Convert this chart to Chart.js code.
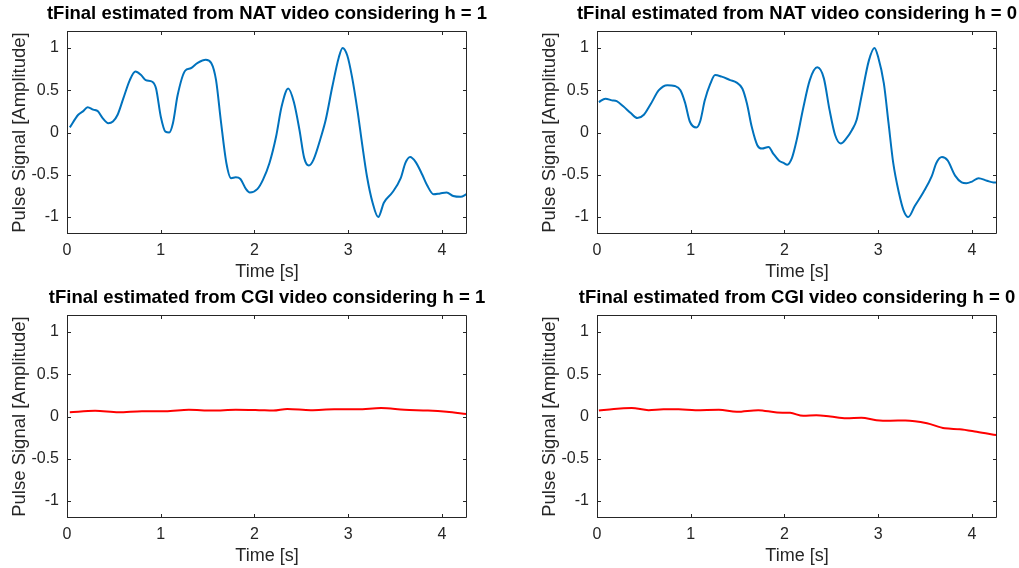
<!DOCTYPE html>
<html>
<head>
<meta charset="utf-8">
<script src="https://cdn.jsdelivr.net/npm/chart.js@4"></script>
<style>
  html, body { margin: 0; padding: 0; background: #fff; overflow: hidden; }
  body { width: 1019px; height: 568px; position: relative; }
  .panel { position: absolute; width: 534px; height: 284px; }
</style>
</head>
<body>
<div class="panel" style="left:0;top:0"><canvas id="natH1"></canvas></div>
<div class="panel" style="left:530px;top:0"><canvas id="natH0"></canvas></div>
<div class="panel" style="left:0;top:284px"><canvas id="cgiH1"></canvas></div>
<div class="panel" style="left:530px;top:284px"><canvas id="cgiH0"></canvas></div>
<script>
// tick labels
const xTicks = [0, 1, 2, 3, 4];
const yTicks = [-1, -0.5, 0, 0.5, 1];

// NAT video, h = 1
const natH1Time = [0.03, 0.12, 0.17, 0.22, 0.28, 0.33, 0.38, 0.44, 0.49, 0.54, 0.60, 0.67, 0.73, 0.79, 0.84, 0.91, 0.95,
  1.00, 1.05, 1.09, 1.13, 1.18, 1.26, 1.32, 1.39, 1.48, 1.54, 1.59, 1.64, 1.70, 1.75, 1.80, 1.85, 1.91, 1.95,
  2.03, 2.09, 2.16, 2.23, 2.29, 2.36, 2.42, 2.48, 2.53, 2.58, 2.63, 2.71, 2.76, 2.83, 2.90, 2.94, 2.99,
  3.04, 3.10, 3.15, 3.20, 3.26, 3.32, 3.38, 3.47, 3.56, 3.61, 3.66, 3.72, 3.79, 3.84, 3.91, 3.98,
  4.05, 4.12, 4.20, 4.26];
const natH1Pulse = [0.06, 0.21, 0.25, 0.30, 0.27, 0.25, 0.17, 0.11, 0.13, 0.21, 0.40, 0.62, 0.72, 0.68, 0.62, 0.60, 0.52,
  0.19, 0.01, 0.0, 0.11, 0.44, 0.73, 0.76, 0.82, 0.86, 0.82, 0.62, 0.15, -0.36, -0.54, -0.53, -0.55, -0.67, -0.71,
  -0.67, -0.56, -0.36, -0.05, 0.31, 0.52, 0.36, 0.03, -0.30, -0.39, -0.32, -0.05, 0.15, 0.54, 0.89, 1.0, 0.91,
  0.66, 0.25, -0.15, -0.52, -0.83, -1.0, -0.83, -0.71, -0.54, -0.36, -0.29, -0.35, -0.50, -0.62, -0.73, -0.72,
  -0.71, -0.75, -0.76, -0.73];

// NAT video, h = 0
const natH0Time = [0.02, 0.09, 0.16, 0.21, 0.28, 0.36, 0.43, 0.50, 0.57, 0.66, 0.75, 0.83, 0.89, 0.94, 0.99,
  1.06, 1.10, 1.15, 1.21, 1.26, 1.33, 1.42, 1.49, 1.55, 1.60, 1.65, 1.71, 1.76, 1.83, 1.88, 1.94, 1.99,
  2.03, 2.08, 2.13, 2.20, 2.27, 2.35, 2.42, 2.48, 2.54, 2.60, 2.66, 2.72, 2.77, 2.82, 2.90, 2.96,
  3.00, 3.06, 3.11, 3.16, 3.22, 3.27, 3.32, 3.39, 3.48, 3.57, 3.62, 3.68, 3.74, 3.82, 3.89, 3.94,
  4.00, 4.07, 4.16, 4.23, 4.26];
const natH0Pulse = [0.36, 0.40, 0.38, 0.37, 0.31, 0.23, 0.17, 0.21, 0.33, 0.50, 0.56, 0.55, 0.50, 0.35, 0.13,
  0.06, 0.13, 0.38, 0.58, 0.68, 0.66, 0.62, 0.59, 0.52, 0.34, 0.07, -0.15, -0.19, -0.17, -0.25, -0.33, -0.36,
  -0.38, -0.30, -0.09, 0.29, 0.62, 0.77, 0.64, 0.27, -0.03, -0.13, -0.07, 0.03, 0.15, 0.42, 0.85, 1.0,
  0.89, 0.58, 0.11, -0.36, -0.71, -0.92, -1.0, -0.87, -0.71, -0.52, -0.36, -0.29, -0.33, -0.51, -0.59, -0.60,
  -0.58, -0.54, -0.57, -0.59, -0.59];

// CGI video, h = 1
const cgiH1Time = [0.03, 0.30, 0.55, 0.80, 1.05, 1.30, 1.55, 1.80, 2.05, 2.20, 2.35, 2.60, 2.85, 3.10, 3.35, 3.60, 3.85, 4.05, 4.26];
const cgiH1Pulse = [0.05, 0.067, 0.05, 0.063, 0.063, 0.08, 0.07, 0.08, 0.075, 0.07, 0.09, 0.075, 0.085, 0.085, 0.10, 0.08, 0.07, 0.055, 0.03];

// CGI video, h = 0
const cgiH0Time = [0.02, 0.18, 0.37, 0.55, 0.71, 0.87, 1.05, 1.30, 1.49, 1.72, 1.92, 2.06, 2.20, 2.34, 2.49, 2.66, 2.82, 2.98,
  3.13, 3.29, 3.52, 3.71, 3.87, 4.05, 4.26];
const cgiH0Pulse = [0.07, 0.09, 0.10, 0.075, 0.086, 0.086, 0.075, 0.08, 0.055, 0.075, 0.047, 0.043, 0.008, 0.016, 0.0, -0.02, -0.016, -0.043,
  -0.05, -0.047, -0.08, -0.14, -0.15, -0.18, -0.22];

const AXIS_COLOR = '#262626';
const FONT = "'Liberation Sans', Arial, Helvetica, sans-serif";

// MATLAB-like box with inward ticks on all four sides
const matlabAxes = {
    id: 'matlabAxes',
    afterDatasetsDraw(chart) {
        const { ctx, chartArea: a, scales: { x, y } } = chart;
        const len = 4;
        ctx.save();
        ctx.strokeStyle = AXIS_COLOR;
        ctx.lineWidth = 1;
        ctx.beginPath();
        ctx.rect(Math.round(a.left) + 0.5, Math.round(a.top) + 0.5,
                 Math.round(a.right) - Math.round(a.left) - 1, Math.round(a.bottom) - Math.round(a.top) - 1);
        x.ticks.forEach(t => {
            const px = Math.round(x.getPixelForValue(t.value)) + 0.5;
            ctx.moveTo(px, a.bottom); ctx.lineTo(px, a.bottom - len);
            ctx.moveTo(px, a.top); ctx.lineTo(px, a.top + len);
        });
        y.ticks.forEach(t => {
            const py = Math.round(y.getPixelForValue(t.value)) + 0.5;
            ctx.moveTo(a.left, py); ctx.lineTo(a.left + len, py);
            ctx.moveTo(a.right, py); ctx.lineTo(a.right - len, py);
        });
        ctx.stroke();
        ctx.restore();
    }
};

function makePanel(canvasId, title, times, values, color) {
    const ctx = document.getElementById(canvasId).getContext('2d');
    return new Chart(ctx, {
        type: 'line',
        data: {
            datasets: [{
                data: times.map((t, i) => ({ x: t, y: values[i] })),
                borderColor: color,
                borderWidth: 2,
                pointRadius: 0,
                fill: false,
                cubicInterpolationMode: 'monotone'
            }]
        },
        options: {
            responsive: true,
            maintainAspectRatio: false,
            animation: false,
            layout: { padding: 0 },
            plugins: {
                legend: { display: false },
                tooltip: { enabled: false },
                title: {
                    display: true,
                    text: title,
                    color: '#000',
                    font: { family: FONT, size: 18.5, weight: 'bold', lineHeight: 1.2 },
                    padding: { top: 3, bottom: 5.8 }
                }
            },
            scales: {
                x: {
                    type: 'linear',
                    min: 0,
                    max: 4.267,
                    afterBuildTicks: s => { s.ticks = xTicks.map(v => ({ value: v })); },
                    afterFit: s => { s.height = 50; },
                    grid: { display: false, drawTicks: false },
                    border: { display: false },
                    ticks: { color: AXIS_COLOR, padding: 7, font: { family: FONT, size: 16 } },
                    title: {
                        display: true, text: 'Time [s]', color: AXIS_COLOR,
                        font: { family: FONT, size: 18, lineHeight: 1.2 },
                        padding: { top: 0, bottom: 1 }
                    }
                },
                y: {
                    min: -1.2,
                    max: 1.2,
                    afterBuildTicks: s => { s.ticks = yTicks.map(v => ({ value: v })); },
                    afterFit: s => { s.width = 67; },
                    grid: { display: false, drawTicks: false },
                    border: { display: false },
                    ticks: { color: AXIS_COLOR, padding: 8, font: { family: FONT, size: 16 },
                             callback: v => String(v) },
                    title: {
                        display: true, text: 'Pulse Signal [Amplitude]', color: AXIS_COLOR,
                        font: { family: FONT, size: 18.5, lineHeight: 1.2 },
                        padding: { top: 9, bottom: 0 }
                    }
                },
                // empty right-hand axis, keeps the title centred over the plot box
                yPad: {
                    position: 'right',
                    afterFit: s => { s.width = 67; },
                    grid: { display: false, drawTicks: false },
                    border: { display: false },
                    ticks: { display: false }
                }
            }
        },
        plugins: [matlabAxes]
    });
}

const BLUE = '#0072BD';
const RED = '#FF0000';
makePanel('natH1', 'tFinal estimated from NAT video considering h = 1', natH1Time, natH1Pulse, BLUE);
makePanel('natH0', 'tFinal estimated from NAT video considering h = 0', natH0Time, natH0Pulse, BLUE);
makePanel('cgiH1', 'tFinal estimated from CGI video considering h = 1', cgiH1Time, cgiH1Pulse, RED);
makePanel('cgiH0', 'tFinal estimated from CGI video considering h = 0', cgiH0Time, cgiH0Pulse, RED);
</script>
</body>
</html>
